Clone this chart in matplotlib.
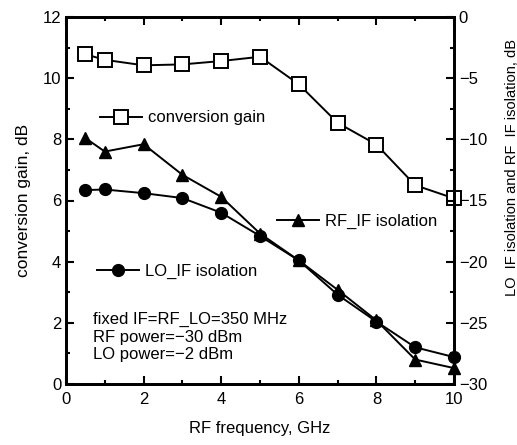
import matplotlib
matplotlib.use("Agg")
import matplotlib.pyplot as plt
from matplotlib.ticker import MultipleLocator
from matplotlib.legend import Legend

plt.rcParams['font.family'] = ['Liberation Sans', 'DejaVu Sans']
plt.rcParams['axes.unicode_minus'] = True

# data
freq = [0.5, 1, 2, 3, 4, 5, 6, 7, 8, 9, 10]
conv_gain = [10.78, 10.6, 10.42, 10.45, 10.56, 10.7, 9.8, 8.54, 7.83, 6.5, 6.07]
rf_if_iso = [-9.9, -11.0, -10.4, -12.9, -14.7, -17.7, -19.9, -22.3, -24.8, -28.0, -28.7]
lo_if_iso = [-14.15, -14.1, -14.4, -14.8, -16.0, -17.9, -19.9, -22.7, -24.9, -27.0, -27.8]

fig = plt.figure(figsize=(5.17, 4.45), dpi=100)
ax = fig.add_axes([66/517, 1-384/445, 388/517, 367/445])
ax2 = ax.twinx()

l1, = ax.plot(freq, conv_gain, color='black', lw=1.4, marker='s', ms=10,
              mfc='white', mec='black', mew=1.4, label='conversion gain', clip_on=False)
l2, = ax2.plot(freq, rf_if_iso, color='black', lw=1.4, marker='^', ms=9,
               mfc='black', label='RF_IF isolation', clip_on=False)
l3, = ax2.plot(freq, lo_if_iso, color='black', lw=1.4, marker='o', ms=8.5,
               mfc='black', label='LO_IF isolation', clip_on=False)

ax.set_xlim(0, 10)
ax.set_ylim(0, 12)
ax2.set_ylim(-30, 0)

ax.xaxis.set_major_locator(MultipleLocator(2))
ax.xaxis.set_minor_locator(MultipleLocator(1))
ax.yaxis.set_major_locator(MultipleLocator(2))
ax.yaxis.set_minor_locator(MultipleLocator(1))
ax2.yaxis.set_major_locator(MultipleLocator(5))
ax2.yaxis.set_minor_locator(MultipleLocator(2.5))

for a in (ax, ax2):
    for s in a.spines.values():
        s.set_linewidth(2)
    a.tick_params(which='both', direction='in', width=1.5, labelsize=12)
    a.tick_params(which='major', length=6)
    a.tick_params(which='minor', length=3)
ax.tick_params(which='both', top=True, right=False)
ax2.tick_params(which='both', left=False, right=True)
ax.tick_params(axis='x', pad=6)

ax.set_xlabel('RF frequency, GHz', fontsize=12, labelpad=10)
ax.set_ylabel('conversion gain, dB', fontsize=12.5, labelpad=8)
fig.text(511/517, 1-167/445, 'LO_IF isolation and RF_IF isolation, dB',
         rotation=90, ha='center', va='center', fontsize=10.5)

def inline_legend(handle, x, y):
    leg = Legend(ax, [handle], [handle.get_label()], loc='center left',
                 bbox_to_anchor=(x, y), frameon=False, fontsize=12,
                 handlelength=2.5, handletextpad=0.4, borderpad=0,
                 borderaxespad=0, numpoints=1)
    ax.add_artist(leg)

inline_legend(l1, 0.088, 0.725)
inline_legend(l2, 0.544, 0.444)
inline_legend(l3, 0.080, 0.308)

ax.text(0.07, 0.128, 'fixed IF=RF_LO=350 MHz\nRF power=\u221230 dBm\nLO power=\u22122 dBm',
        transform=ax.transAxes, fontsize=12, va='center', ha='left', linespacing=1.2)

fig.savefig('out.png', dpi=100)
